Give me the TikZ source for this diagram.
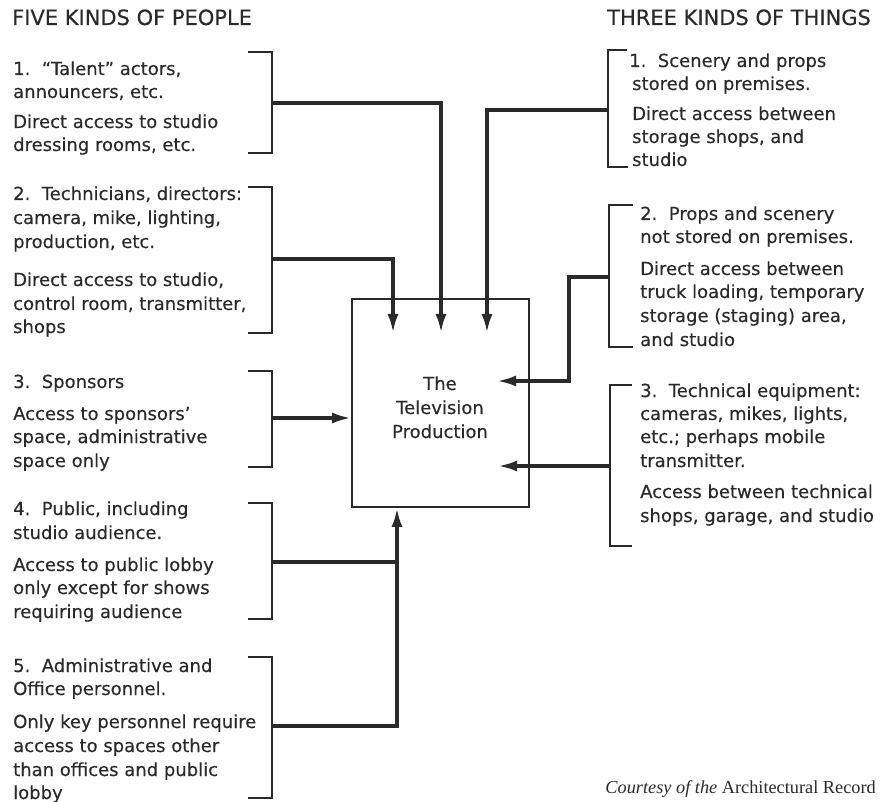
\documentclass[tikz,border=0pt]{standalone}
\usepackage{fontspec}
\setmainfont[FakeBold=0.3]{DejaVu Sans}
\newfontfamily\crfont{Liberation Serif}
\usetikzlibrary{arrows.meta}
\definecolor{ink}{HTML}{2A2A2A}
\begin{document}
\begin{tikzpicture}[x=1pt,y=-1pt,
  txt/.style={anchor=base west,inner sep=0pt,font=\fontsize{18}{22}\selectfont,text=ink},
  headtxt/.style={anchor=base west,inner sep=0pt,font=\fontsize{21}{25}\selectfont,text=ink},
  ctr/.style={anchor=base,inner sep=0pt,font=\fontsize{18}{22}\selectfont,text=ink},
  brk/.style={draw=ink,line width=1.8pt},
  conn/.style={draw=ink,line width=3.4pt},
  arr/.style={conn,-{Latex[length=19pt,width=11pt]}},
  boxst/.style={draw=ink,line width=1.8pt,minimum width=177pt,minimum height=208pt,inner sep=0pt}
]
\useasboundingbox (0,0) rectangle (884,802);

% headers
\node[headtxt] (hL) at (12,25) {FIVE KINDS OF PEOPLE};
\node[headtxt] (hR) at (607,25) {THREE KINDS OF THINGS};

% central box
\node[boxst] (tv) at (440.5,403) {};
\node[ctr] (c1) at (440,390) {The};
\node[ctr] (c2) at (440,414) {Television};
\node[ctr] (c3) at (440,438) {Production};

% left texts
\node[txt] (p1a) at (13,75) {1.\ \ “Talent” actors,};
\node[txt] (p1b) at (13,98) {announcers, etc.};
\node[txt] (p1c) at (13,128) {Direct access to studio};
\node[txt] (p1d) at (13,151) {dressing rooms, etc.};

\node[txt] (p2a) at (13,200) {2.\ \ Technicians, directors:};
\node[txt] (p2b) at (13,224) {camera, mike, lighting,};
\node[txt] (p2c) at (13,248) {production, etc.};
\node[txt] (p2d) at (13,286) {Direct access to studio,};
\node[txt] (p2e) at (13,310) {control room, transmitter,};
\node[txt] (p2f) at (13,333) {shops};

\node[txt] (p3a) at (13,388) {3.\ \ Sponsors};
\node[txt] (p3b) at (13,420) {Access to sponsors’};
\node[txt] (p3c) at (13,443) {space, administrative};
\node[txt] (p3d) at (13,467) {space only};

\node[txt] (p4a) at (13,515) {4.\ \ Public, including};
\node[txt] (p4b) at (13,539) {studio audience.};
\node[txt] (p4c) at (13,571) {Access to public lobby};
\node[txt] (p4d) at (13,594) {only except for shows};
\node[txt] (p4e) at (13,618) {requiring audience};

\node[txt] (p5a) at (13,672) {5.\ \ Administrative and};
\node[txt] (p5b) at (13,695) {Office personnel.};
\node[txt] (p5c) at (13,728) {Only key personnel require};
\node[txt] (p5d) at (13,752) {access to spaces other};
\node[txt] (p5e) at (13,776) {than offices and public};
\node[txt] (p5f) at (13,799) {lobby};

% right texts
\node[txt] (q1a) at (629,67) {1.\ \ Scenery and props};
\node[txt] (q1b) at (632,90) {stored on premises.};
\node[txt] (q1c) at (632,120) {Direct access between};
\node[txt] (q1d) at (632,143) {storage shops, and};
\node[txt] (q1e) at (632,166) {studio};

\node[txt] (q2a) at (640,220) {2.\ \ Props and scenery};
\node[txt] (q2b) at (640,243) {not stored on premises.};
\node[txt] (q2c) at (640,275) {Direct access between};
\node[txt] (q2d) at (640,298) {truck loading, temporary};
\node[txt] (q2e) at (640,322) {storage (staging) area,};
\node[txt] (q2f) at (640,346) {and studio};

\node[txt] (q3a) at (640,397) {3.\ \ Technical equipment:};
\node[txt] (q3b) at (640,420) {cameras, mikes, lights,};
\node[txt] (q3c) at (640,443) {etc.; perhaps mobile};
\node[txt] (q3d) at (640,467) {transmitter.};
\node[txt] (q3e) at (640,498) {Access between technical};
\node[txt] (q3f) at (640,522) {shops, garage, and studio};

% credit
\node[anchor=base east,inner sep=0pt,text=ink,font=\crfont\fontsize{18.3}{21}\selectfont] (cr) at (876,793) {\textit{Courtesy of the} Architectural Record};

% left brackets
\draw[brk] (248,52) -| (272,153) -- (248,153);
\draw[brk] (248,187) -| (272,333) -- (248,333);
\draw[brk] (248,371) -| (272,467) -- (248,467);
\draw[brk] (248,503) -| (272,619) -- (248,619);
\draw[brk] (248,657) -| (272,798) -- (248,798);

% right brackets
\draw[brk] (627,50) -| (608,167) -- (628,167);
\draw[brk] (633,205) -| (609,347) -- (633,347);
\draw[brk] (632,385) -| (610,546) -- (632,546);

% connection points
\coordinate (b1) at (272,103);
\coordinate (b2) at (272,259);
\coordinate (b3) at (272,418);
\coordinate (b4) at (272,562);
\coordinate (b5) at (272,726);
\coordinate (r1) at (608,110);
\coordinate (r2) at (609,277);
\coordinate (r3) at (610,466);
\coordinate (t1) at (441,333);
\coordinate (t2) at (393,333);
\coordinate (t3) at (487,333);
\coordinate (t4) at (497,381);
\coordinate (t5) at (498,466);
\coordinate (jx) at (397,726);

% connectors
\draw[arr] (b1) -| (t1);
\draw[arr] (b2) -| (t2);
\draw[arr] (b3) -- (b3 -| tv.west);
\draw[conn] (b4) -- (b4 -| jx);
\draw[arr] (b5) -| (jx |- tv.south);
\draw[arr] (r1) -| (t3);
\draw[arr] (r2) -- ++(-40,0) |- (t4);
\draw[arr] (r3) -- (t5);
\end{tikzpicture}
\end{document}
